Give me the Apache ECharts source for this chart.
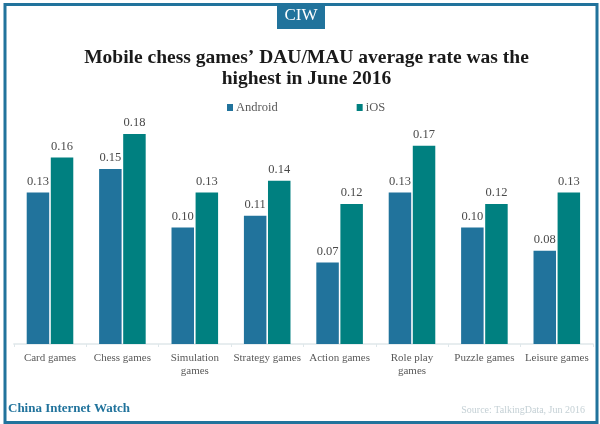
<!DOCTYPE html>
<html><head><meta charset="utf-8">
<style>html,body{margin:0;padding:0;background:#fff}#c{width:600px;height:424px}</style>
<script src="https://cdn.jsdelivr.net/npm/echarts@6/dist/echarts.min.js"></script>
</head><body><div id="c"></div>
<script>
const categories = ['Card games','Chess games','Simulation\ngames','Strategy games','Action games','Role play\ngames','Puzzle games','Leisure games'];
const android = [0.13,0.15,0.10,0.11,0.07,0.13,0.10,0.08];
const ios = [0.16,0.18,0.13,0.14,0.12,0.17,0.12,0.13];
const titleText = 'Mobile chess games’ DAU/MAU average rate was the\nhighest in June 2016';
const BLUE='#21739c', TEAL='#008080', SERIF='"Liberation Serif", serif';
const chart = echarts.init(document.getElementById('c'),null,{renderer:'canvas'});
const label={show:true,position:'top',distance:4.5,fontFamily:SERIF,fontSize:12.5,color:'#4a4a4a',formatter:p=>p.value.toFixed(2)};
chart.setOption({
  animation:false,
  title:{text:titleText,left:301.5,top:43,textAlign:'center',textStyle:{fontFamily:SERIF,fontWeight:'bold',fontSize:19.5,lineHeight:20.5,color:'#1a1a1a'}},
  legend:{top:96,left:222,itemWidth:6,itemHeight:7,itemGap:79,icon:'rect',textStyle:{fontFamily:SERIF,fontSize:12.5,color:'#595959',padding:[0,0,0,-2]},data:['Android','iOS']},
  grid:{left:13.8,right:7,top:110.8,bottom:80},
  xAxis:{type:'category',data:categories,
    axisLine:{lineStyle:{color:'#dfe7ea',width:1.5}},
    axisTick:{show:true,length:3,lineStyle:{color:'#dfe7ea'}},
    axisLabel:{interval:0,margin:8,fontFamily:SERIF,fontSize:11,lineHeight:13,color:'#595959'}},
  yAxis:{type:'value',min:0,max:0.2,show:false,splitLine:{show:false}},
  series:[
    {name:'Android',type:'bar',data:android,barWidth:22.5,barGap:'7%',itemStyle:{color:BLUE},label},
    {name:'iOS',type:'bar',data:ios,barWidth:22.5,barGap:'7%',itemStyle:{color:TEAL},label}
  ],
  graphic:[
    {type:'rect',silent:true,z:0,shape:{x:5,y:4.5,width:592,height:418},style:{fill:'none',stroke:BLUE,lineWidth:3}},
    {type:'rect',silent:true,z:1,shape:{x:277,y:4,width:48,height:25},style:{fill:BLUE}},
    {type:'text',silent:true,z:2,x:301,y:16,style:{text:'CIW',fontFamily:SERIF,fontSize:17,fill:'#fff',textAlign:'center',textVerticalAlign:'middle'}},
    {type:'text',silent:true,z:2,x:8,y:409,style:{text:'China Internet Watch',fontFamily:SERIF,fontWeight:'bold',fontSize:13,fill:BLUE,textVerticalAlign:'middle'}},
    {type:'text',silent:true,z:2,x:585,y:410,style:{text:'Source: TalkingData, Jun 2016',fontFamily:SERIF,fontSize:10,fill:'#c4d0d5',textAlign:'right',textVerticalAlign:'middle'}}
  ]
});
</script></body></html>
